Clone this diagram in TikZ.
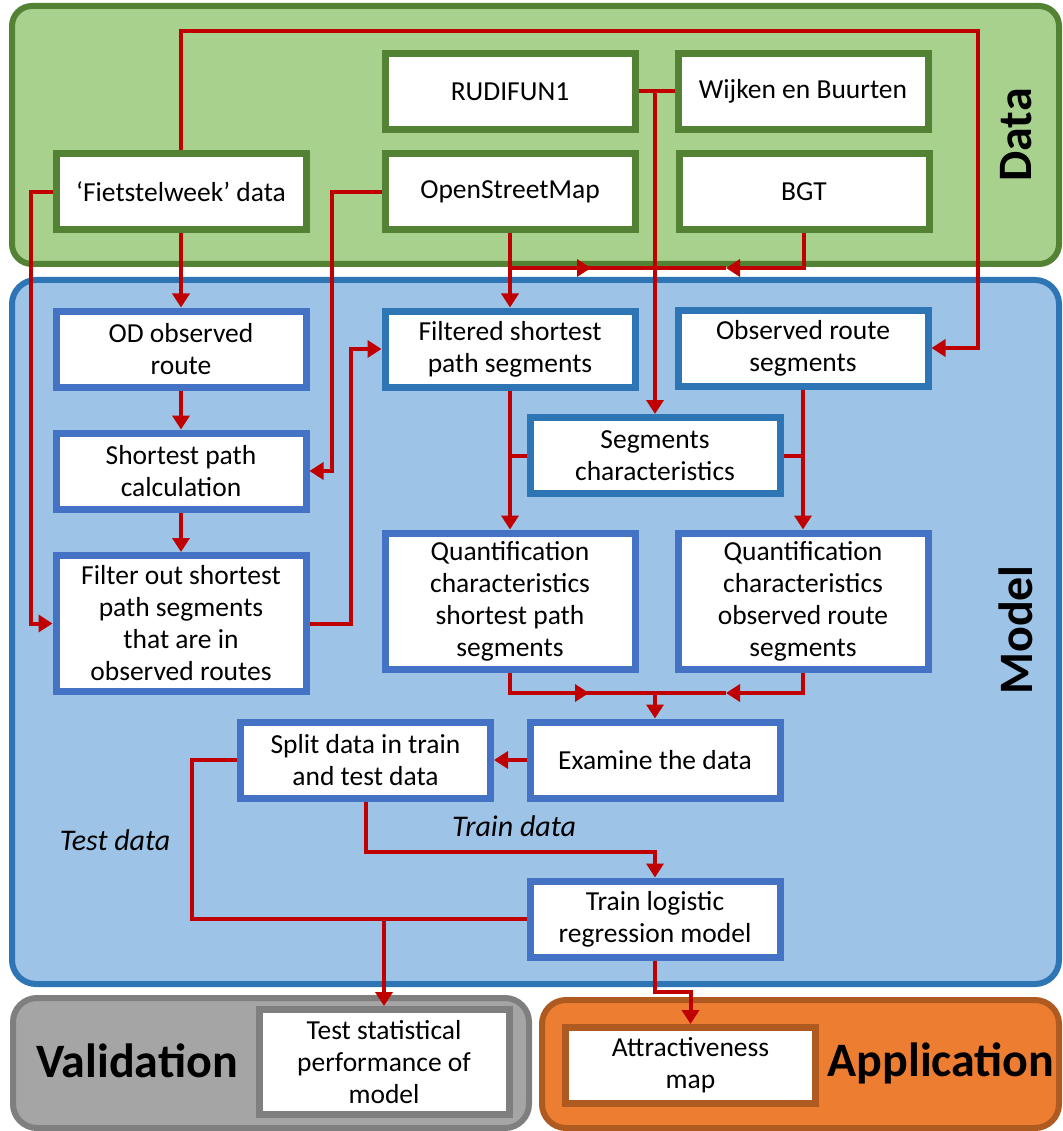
\documentclass[tikz,border=0pt]{standalone}
\usepackage{fontspec}
\setmainfont{Carlito}
\usetikzlibrary{arrows.meta}
\definecolor{grfill}{HTML}{A9D18E}
\definecolor{grline}{HTML}{548235}
\definecolor{blfill}{HTML}{9DC3E6}
\definecolor{blline}{HTML}{2E75B6}
\definecolor{bxblue}{HTML}{4472C4}
\definecolor{gyfill}{HTML}{A5A5A5}
\definecolor{gyline}{HTML}{7F7F7F}
\definecolor{orfill}{HTML}{ED7D31}
\definecolor{orline}{HTML}{AE5A21}
\definecolor{redline}{HTML}{C00000}
\begin{document}
\begin{tikzpicture}[x=1pt,y=-1pt,
  grp/.style={line width=6pt, rounded corners=20pt},
  bx/.style={draw, fill=white, line width=7pt, minimum width=250pt, minimum height=76pt,
    inner sep=2pt, align=center, font=\fontsize{27.5}{32}\selectfont},
  ttl/.style={font=\fontsize{48}{56}\selectfont\bfseries},
  lbl/.style={font=\fontsize{30}{36}\selectfont\itshape},
  wire/.style={draw=redline, line width=4pt},
  conn/.style={wire, -{Triangle[length=14pt,width=17pt]}}]
\useasboundingbox (0,0) rectangle (1062,1131);
% groups
\draw[grp, draw=grline, fill=grfill] (12,6) rectangle (1059,264);
\draw[grp, draw=blline, fill=blfill, rounded corners=24pt] (12,280) rectangle (1059,984);
\draw[grp, draw=gyline, fill=gyfill, rounded corners=24pt] (13,998) rectangle (529,1128);
\draw[grp, draw=orline, fill=orfill, rounded corners=24pt] (542,1000) rectangle (1059,1128);
% titles
\node[ttl, rotate=90] (tdata) at (1016,135) {Data};
\node[ttl, rotate=90] (tmodel) at (1016,630) {Model};
\node[ttl] (tval) at (137,1061) {Validation};
\node[ttl] (tapp) at (941,1063) {Application};
% data boxes
\node[bx, draw=grline] (fiets) at (181,192) {‘Fietstelweek’ data};
\node[bx, draw=grline] (osm) at (510,192) {OpenStreetMap};
\node[bx, draw=grline] (rudi) at (510,91.5) {RUDIFUN1};
\node[bx, draw=grline] (wijk) at (803,91.5) {Wijken en Buurten};
\node[bx, draw=grline] (bgt) at (804,192) {BGT};
% model boxes
\node[bx, draw=bxblue] (od) at (181,349) {OD observed\\route};
\node[bx, draw=bxblue] (sp) at (181,471) {Shortest path\\calculation};
\node[bx, draw=bxblue, minimum height=136pt] (filter) at (181,623.5) {Filter out shortest\\path segments\\that are in\\observed routes};
\node[bx, draw=blline] (filtered) at (510,349) {Filtered shortest\\path segments};
\node[bx, draw=blline] (obs) at (803,348) {Observed route\\segments};
\node[bx, draw=blline] (seg) at (655,455.5) {Segments\\characteristics};
\node[bx, draw=bxblue, minimum height=136pt] (quantS) at (510,601) {Quantification\\characteristics\\shortest path\\segments};
\node[bx, draw=bxblue, minimum height=136pt] (quantO) at (803,601) {Quantification\\characteristics\\observed route\\segments};
\node[bx, draw=bxblue] (exam) at (655,760) {Examine the data};
\node[bx, draw=bxblue] (split) at (365.5,760) {Split data in train\\and test data};
\node[bx, draw=bxblue] (train) at (655,919) {Train logistic\\regression model};
\node[bx, draw=gyline, minimum height=105pt] (test) at (384,1062) {Test statistical\\performance of\\model};
\node[bx, draw=orline] (attr) at (690.5,1065.5) {Attractiveness\\map};
% labels
\node[lbl] (ltest) at (115,840) {Test data};
\node[lbl] (ltrain) at (514,826) {Train data};
% junction coordinates
\coordinate (jA) at (510,268);
\coordinate (jB) at (655,268);
\coordinate (jR) at (655,91.5);
\coordinate (aOSM) at (591,268);
\coordinate (aBGT) at (726,268);
\coordinate (jQ) at (655,693);
\coordinate (aQS) at (589,693);
\coordinate (aQO) at (726,693);
\coordinate (jT) at (384,919);
% connectors
\draw[conn] (fiets.north) |- (978,31) |- (obs.east);
\draw[conn] (fiets.west) -- (31,192) |- (filter.west);
\draw[conn] (fiets.south) -- (od.north);
\draw[conn] (od.south) -- (sp.north);
\draw[conn] (sp.south) -- (filter.north);
\draw[conn] (osm.west) -- (332,192) |- (sp.east);
\draw[conn] (filter.east) -- (351,623.5) |- (filtered.west);
\draw[conn] (osm.south) -- (filtered.north);
\draw[wire] (jA) -- (aBGT);
\draw[conn] (jA) -- (aOSM);
\draw[conn] (bgt.south) |- (aBGT);
\draw[wire] (rudi.east) -- (wijk.west);
\draw[conn] (jR) -- (seg.north);
\draw[conn] (filtered.south) -- (quantS.north);
\draw[wire] (seg.west) -- (filtered.south |- seg.west);
\draw[conn] (obs.south) -- (quantO.north);
\draw[wire] (seg.east) -- (obs.south |- seg.east);
\draw[wire] (quantS.south) |- (aQO);
\draw[conn] (quantS.south) |- (aQS);
\draw[conn] (quantO.south) |- (aQO);
\draw[conn] (jQ) -- (exam.north);
\draw[conn] (exam.west) -- (split.east);
\draw[wire] (split.west) -- (192,760) |- (train.west);
\draw[conn] (jT) -- (test.north);
\draw[conn] (split.south) |- (655,852) -- (train.north);
\draw[conn] (train.south) -- (655,992) -| (attr.north);
\end{tikzpicture}
\end{document}
